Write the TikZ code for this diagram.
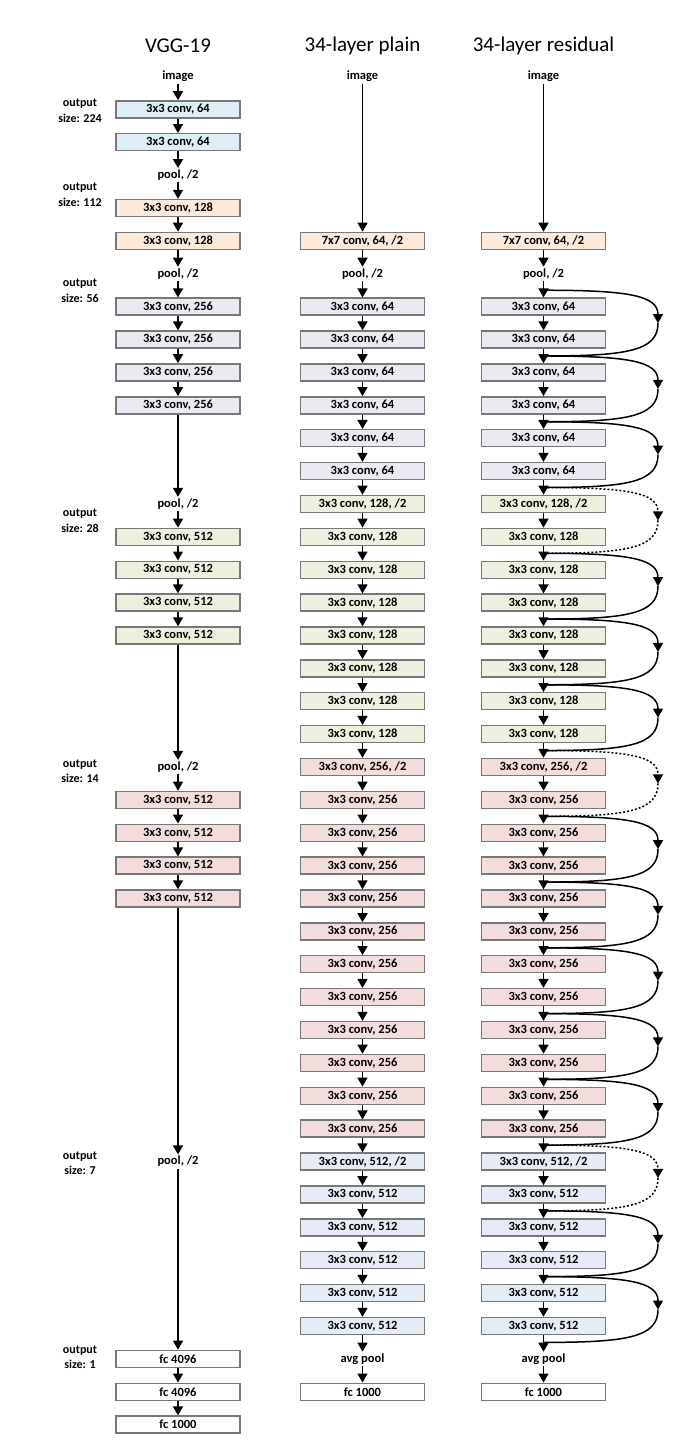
\documentclass[tikz,border=0pt]{standalone}
\usepackage{fontspec}
\setmainfont{Carlito}
\usetikzlibrary{arrows.meta,calc}
\definecolor{cblue}{RGB}{221,238,244}
\definecolor{cpeach}{RGB}{253,234,218}
\definecolor{clav}{RGB}{235,233,242}
\definecolor{cgreen}{RGB}{235,241,222}
\definecolor{cpink}{RGB}{242,221,220}
\definecolor{cblue2}{RGB}{230,236,246}
\definecolor{boxgray}{RGB}{120,120,120}
\begin{document}
\begin{tikzpicture}[x=1pt,y=-1pt,
  box/.style={draw=boxgray,line width=1.4pt,minimum width=124pt,minimum height=17pt,inner sep=0pt,
    font=\bfseries\fontsize{12.5}{13}\selectfont},
  lbl/.style={inner sep=1.5pt,font=\bfseries\fontsize{12.5}{13}\selectfont},
  outl/.style={align=center,inner sep=0pt,font=\bfseries\fontsize{12}{15.5}\selectfont},
  ttl/.style={inner sep=0pt,font=\fontsize{21}{25}\selectfont},
  arr/.style={line width=1.5pt,-{Triangle[length=9pt,width=10pt]}},
  skiparr/.style={line width=1.5pt,-{Triangle[length=9pt,width=10pt]}},
  skipline/.style={line width=1.5pt},
  dotty/.style={dash pattern=on 2pt off 2pt},
  plain/.style={}]
\useasboundingbox (0,0) rectangle (682,1454);

% titles
\node[ttl] (t1) at (178,46) {VGG-19};
\node[ttl] (t2) at (362.5,46) {34-layer plain};
\node[ttl] (t3) at (543.5,46) {34-layer residual};

% output size labels
\node[outl] (o1) at (80,111) {output\\size: 224};
\node[outl] (o2) at (80,195) {output\\size: 112};
\node[outl] (o3) at (80,291) {output\\size: 56};
\node[outl] (o4) at (80,521) {output\\size: 28};
\node[outl] (o5) at (80,771) {output\\size: 14};
\node[outl] (o6) at (80,1163) {output\\size: 7};
\node[outl] (o7) at (80,1357) {output\\size: 1};

% VGG-19 column
\def\vx{178}
\node[lbl] (v0) at (\vx,{76.5+32.88*0}) {image};
\foreach \r in {1,2} \node[box,fill=cblue] (v\r) at (\vx,{76.5+32.88*\r}) {3x3 conv, 64};
\node[lbl] (v3) at (\vx,{76.5+32.88*3}) {pool, /2};
\foreach \r in {4,5} \node[box,fill=cpeach] (v\r) at (\vx,{76.5+32.88*\r}) {3x3 conv, 128};
\node[lbl] (v6) at (\vx,{76.5+32.88*6}) {pool, /2};
\foreach \r in {7,...,10} \node[box,fill=clav] (v\r) at (\vx,{76.5+32.88*\r}) {3x3 conv, 256};
\node[lbl] (v13) at (\vx,{76.5+32.88*13}) {pool, /2};
\foreach \r in {14,...,17} \node[box,fill=cgreen] (v\r) at (\vx,{76.5+32.88*\r}) {3x3 conv, 512};
\node[lbl] (v21) at (\vx,{76.5+32.88*21}) {pool, /2};
\foreach \r in {22,...,25} \node[box,fill=cpink] (v\r) at (\vx,{76.5+32.88*\r}) {3x3 conv, 512};
\node[lbl] (v33) at (\vx,{76.5+32.88*33}) {pool, /2};
\node[box,fill=white] (v39) at (\vx,{76.5+32.88*39}) {fc 4096};
\node[box,fill=white] (v40) at (\vx,{76.5+32.88*40}) {fc 4096};
\node[box,fill=white] (v41) at (\vx,{76.5+32.88*41}) {fc 1000};
\foreach \a/\b in {0/1,1/2,2/3,3/4,4/5,5/6,6/7,7/8,8/9,9/10,10/13,13/14,14/15,15/16,16/17,17/21,
  21/22,22/23,23/24,24/25,25/33,33/39,39/40,40/41}
  \draw[arr] (v\a) -- (v\b);

% plain and residual columns
\foreach \cx/\n in {362.5/p,543.5/r}{
  \node[lbl] (\n0) at (\cx,{76.5+32.88*0}) {image};
  \node[box,fill=cpeach] (\n5) at (\cx,{76.5+32.88*5}) {7x7 conv, 64, /2};
  \node[lbl] (\n6) at (\cx,{76.5+32.88*6}) {pool, /2};
  \foreach \r in {7,...,12} \node[box,fill=clav] (\n\r) at (\cx,{76.5+32.88*\r}) {3x3 conv, 64};
  \node[box,fill=cgreen] (\n13) at (\cx,{76.5+32.88*13}) {3x3 conv, 128, /2};
  \foreach \r in {14,...,20} \node[box,fill=cgreen] (\n\r) at (\cx,{76.5+32.88*\r}) {3x3 conv, 128};
  \node[box,fill=cpink] (\n21) at (\cx,{76.5+32.88*21}) {3x3 conv, 256, /2};
  \foreach \r in {22,...,32} \node[box,fill=cpink] (\n\r) at (\cx,{76.5+32.88*\r}) {3x3 conv, 256};
  \node[box,fill=cblue2] (\n33) at (\cx,{76.5+32.88*33}) {3x3 conv, 512, /2};
  \foreach \r in {34,...,38} \node[box,fill=cblue2] (\n\r) at (\cx,{76.5+32.88*\r}) {3x3 conv, 512};
  \node[lbl] (\n39) at (\cx,{76.5+32.88*39}) {avg pool};
  \node[box,fill=white] (\n40) at (\cx,{76.5+32.88*40}) {fc 1000};
  \draw[arr] (\n0) -- (\n5);
  \foreach \a in {5,...,39}{
    \pgfmathtruncatemacro{\b}{\a+1}
    \draw[arr] (\n\a) -- (\n\b);
  }
}

% shortcut connections
\foreach \a/\st in {7/plain,9/plain,11/plain,13/dotty,15/plain,17/plain,19/plain,
  21/dotty,23/plain,25/plain,27/plain,29/plain,31/plain,33/dotty,35/plain,37/plain}{
  \pgfmathsetmacro{\ys}{76.5+32.88*\a-16.44}
  \pgfmathsetmacro{\ye}{76.5+32.88*(\a+1)+16.44}
  \pgfmathsetmacro{\ym}{(\ys+\ye)/2}
  \pgfmathsetmacro{\ysa}{\ys+5}
  \pgfmathsetmacro{\yea}{\ye-5}
  \coordinate (js\a) at (543.5,\ys);
  \coordinate (kr\a) at (658,\ym);
  \coordinate (je\a) at (543.5,\ye);
  \draw[skiparr,\st] (js\a) .. controls (627,\ys) and (658,\ysa) .. (kr\a);
  \draw[skipline,\st] (kr\a) .. controls (658,\yea) and (627,\ye) .. (je\a);
}
\end{tikzpicture}
\end{document}
